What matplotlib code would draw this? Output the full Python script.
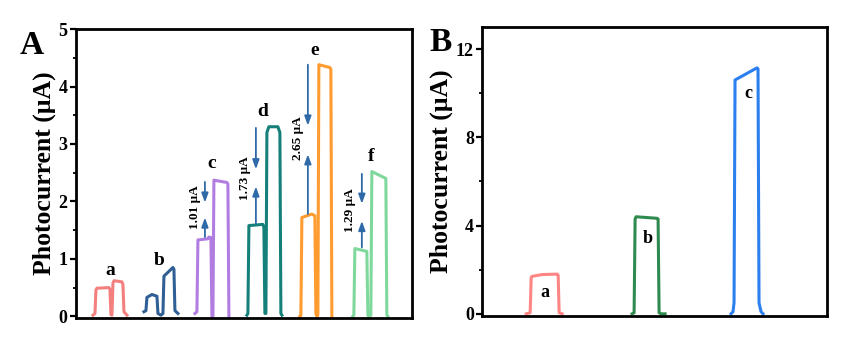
import matplotlib
matplotlib.use("Agg")
import matplotlib.pyplot as plt
from matplotlib.ticker import MultipleLocator

plt.rcParams['font.family'] = ['Liberation Serif', 'DejaVu Serif']
plt.rcParams['font.weight'] = 'bold'

# ---------------- Panel A data ----------------
a_t = [17, 19, 20, 21, 33, 34, 35, 36, 37, 38, 46, 47, 48, 51]
a_i = [0.02, 0.05, 0.46, 0.49, 0.50, 0.47, 0.03, 0.02, 0.58, 0.62, 0.60, 0.55, 0.08, 0.02]
b_t = [68, 70, 71, 76, 81, 82, 85, 87, 88, 97, 98, 99, 102]
b_i = [0.08, 0.10, 0.33, 0.38, 0.35, 0.05, 0.02, 0.05, 0.70, 0.85, 0.82, 0.10, 0.05]
c_t = [119, 121, 122, 132, 133, 135, 136, 137, 138, 151, 152, 153]
c_i = [0.05, 0.08, 1.33, 1.35, 1.38, 1.37, 0.0, 0.0, 2.37, 2.33, 2.30, 0.0]
d_t = [171, 172, 173, 187, 188, 189, 190, 191, 193, 202, 204, 205, 206]
d_i = [0.02, 0.05, 1.58, 1.60, 1.55, 0.05, 0.05, 3.20, 3.30, 3.30, 3.20, 0.05, 0.02]
e_t = [224, 225, 226, 236, 239, 240, 241, 242, 243, 254, 255, 256]
e_i = [0.0, 0.02, 1.72, 1.78, 1.75, 0.05, 0.0, 0.02, 4.38, 4.33, 4.30, 0.0]
f_t = [277, 278, 279, 291, 292, 293, 295, 296, 310, 311, 312]
f_i = [0.0, 0.02, 1.18, 1.13, 0.02, 0.0, 0.02, 2.52, 2.40, 0.02, 0.0]

A_traces = [(a_t, a_i, '#f47f7f'), (b_t, b_i, '#2f5f95'), (c_t, c_i, '#b27de0'),
            (d_t, d_i, '#15807a'), (e_t, e_i, '#ff9b2f'), (f_t, f_i, '#80d99c')]

A_letters = ['a', 'b', 'c', 'd', 'e', 'f']
A_letter_x = [34, 83, 136, 187, 239, 295]
A_letter_y = [0.80, 0.98, 2.66, 3.56, 4.63, 2.78]

# arrows: (x, up_from, up_to, down_from, down_to)
arrow_x = [129, 180, 232, 286]
up_from = [1.38, 1.62, 1.78, 1.20]
up_to = [1.72, 2.26, 2.82, 1.66]
down_from = [2.34, 3.28, 4.38, 2.48]
down_to = [1.98, 2.56, 3.32, 1.96]
delta_labels = ['1.01 μA', '1.73 μA', '2.65 μA', '1.29 μA']
delta_x = [119, 169, 222, 274]
delta_y = [1.90, 2.40, 3.10, 1.85]

# ---------------- Panel B data ----------------
Ba_t = [44, 48, 49, 50, 60, 75, 76, 77, 80]
Ba_i = [0.0, 0.05, 1.65, 1.70, 1.78, 1.80, 1.75, 0.05, 0.0]
Bb_t = [150, 152, 153, 154, 175, 176, 177, 179, 183]
Bb_i = [0.0, 0.05, 4.30, 4.40, 4.33, 4.30, 0.05, 0.0, 0.0]
Bc_t = [249, 251, 252, 253, 265, 275, 276, 277, 279, 281]
Bc_i = [0.0, 0.10, 0.50, 10.60, 10.90, 11.15, 11.10, 0.50, 0.10, 0.0]
B_traces = [(Ba_t, Ba_i, '#ff8585'), (Bb_t, Bb_i, '#2f8a4f'), (Bc_t, Bc_i, '#2b7fee')]
B_letters = ['a', 'b', 'c']
B_letter_x = [63, 166, 266]
B_letter_y = [0.95, 3.40, 10.0]

fig = plt.figure(figsize=(8.46, 3.38), dpi=100)
axA = fig.add_axes([0.0898, 0.059, 0.397, 0.855])
axB = fig.add_axes([0.570, 0.065, 0.4075, 0.855])

def style(ax):
    for s in ax.spines.values():
        s.set_linewidth(2.0)
    ax.set_xticks([])
    ax.tick_params(axis='y', which='major', direction='out', length=4, width=1.6,
                   labelsize=13, pad=2)
    ax.tick_params(axis='y', which='minor', direction='out', length=2.5, width=1.3)
    for lab in ax.get_yticklabels():
        lab.set_fontweight('bold')
    ax.set_ylabel('Photocurrent (μA)', fontsize=18.5, fontweight='bold', labelpad=2)

# Panel A
for t, i, col in A_traces:
    axA.plot(t, i, color=col, lw=2.2, solid_joinstyle='round')
axA.set_xlim(0, 336)
axA.set_ylim(-0.03, 5.0)
axA.yaxis.set_major_locator(MultipleLocator(1))
axA.yaxis.set_minor_locator(MultipleLocator(0.5))
style(axA)
for lt, x, y in zip(A_letters, A_letter_x, A_letter_y):
    axA.text(x, y, lt, fontsize=14, fontweight='bold', ha='center', va='center')
arrow_col = '#2f6aa8'
for k in range(len(arrow_x)):
    x = arrow_x[k]
    axA.annotate('', xy=(x, up_to[k]), xytext=(x, up_from[k]),
                 arrowprops=dict(arrowstyle='-|>,head_length=0.55,head_width=0.2',
                                 color=arrow_col, lw=1.3, shrinkA=0, shrinkB=0))
    axA.annotate('', xy=(x, down_to[k]), xytext=(x, down_from[k]),
                 arrowprops=dict(arrowstyle='-|>,head_length=0.55,head_width=0.2',
                                 color=arrow_col, lw=1.3, shrinkA=0, shrinkB=0))
    axA.text(delta_x[k], delta_y[k], delta_labels[k], rotation=90, fontsize=9.5,
             fontweight='bold', ha='center', va='center')

# Panel B
for t, i, col in B_traces:
    axB.plot(t, i, color=col, lw=2.2, solid_joinstyle='round')
axB.set_xlim(0, 345)
axB.set_ylim(-0.1, 13.0)
axB.yaxis.set_major_locator(MultipleLocator(4))
axB.yaxis.set_minor_locator(MultipleLocator(2))
style(axB)
for lt, x, y in zip(B_letters, B_letter_x, B_letter_y):
    axB.text(x, y, lt, fontsize=13, fontweight='bold', ha='center', va='center')

fig.text(0.038, 0.865, 'A', fontsize=24, fontweight='bold', ha='center', va='center')
fig.text(0.521, 0.875, 'B', fontsize=24, fontweight='bold', ha='center', va='center')

fig.savefig('out.png', dpi=100)
